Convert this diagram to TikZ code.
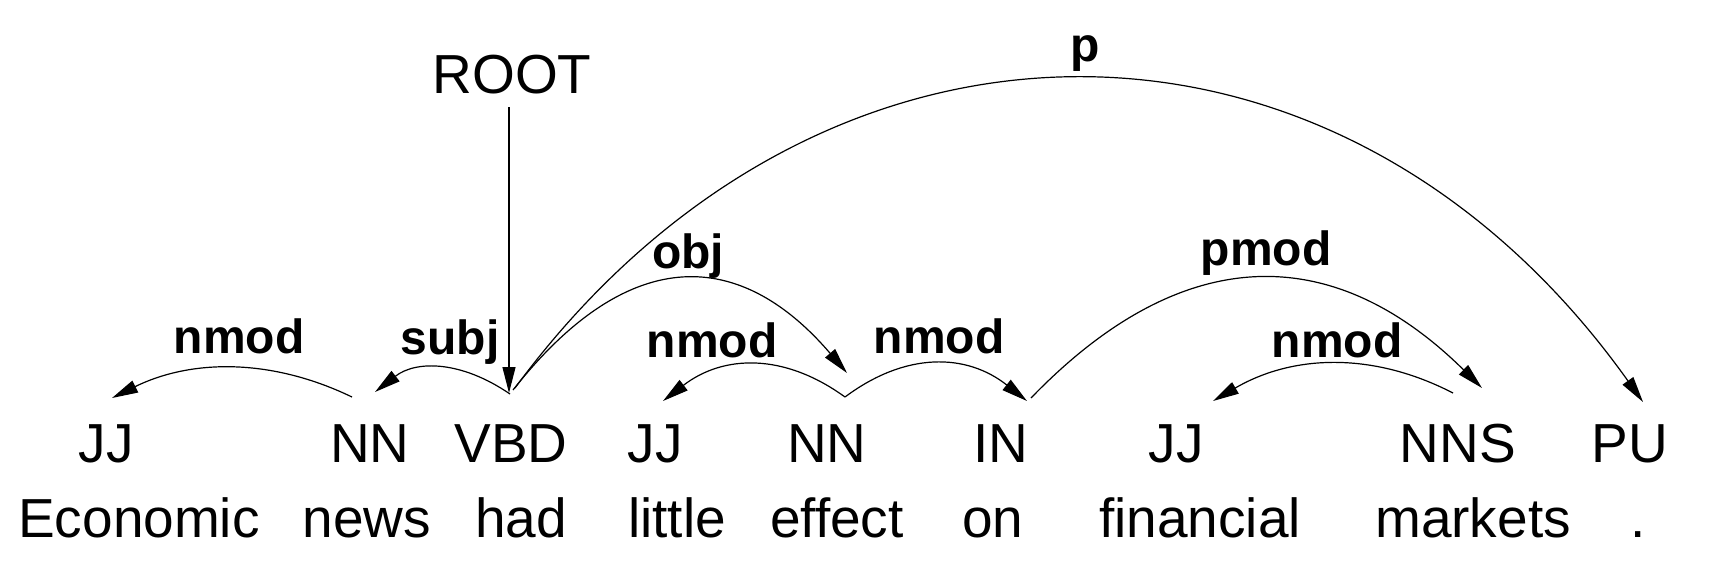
\documentclass[tikz,border=0pt]{standalone}
\usepackage{fontspec}
\setmainfont{Liberation Sans}
\usetikzlibrary{arrows.meta,calc}
\begin{document}
\begin{tikzpicture}[x=0.5pt,y=-0.5pt,
  tag/.style={anchor=base,inner sep=0pt,font=\fontsize{27.5}{30}\selectfont},
  word/.style={anchor=base,inner sep=0pt,font=\fontsize{27.5}{30}\selectfont},
  lab/.style={anchor=base,inner sep=0pt,font=\fontsize{24}{26}\selectfont\bfseries},
  dep/.style={line width=0.6pt,-{Triangle[length=13pt,width=6.5pt]}}]
\useasboundingbox (0,0) rectangle (1710,570);
% POS tags
\node[tag] (t1) at (106,462) {JJ};
\node[tag] (t2) at (370,462) {NN};
\node[tag] (t3) at (511,462) {VBD};
\node[tag] (t4) at (655,462) {JJ};
\node[tag] (t5) at (827,462) {NN};
\node[tag] (t6) at (1001,462) {IN};
\node[tag] (t7) at (1176,462) {JJ};
\node[tag] (t8) at (1458,462) {NNS};
\node[tag] (t9) at (1630,462) {PU};
% words
\node[word] (w1) at (139,537) {Economic};
\node[word] (w2) at (367,537) {news};
\node[word] (w3) at (521,537) {had};
\node[word] (w4) at (677,537) {little};
\node[word] (w5) at (837,537) {effect};
\node[word] (w6) at (993,537) {on};
\node[word] (w7) at (1200,537) {financial};
\node[word] (w8) at (1473,537) {markets};
\node[word] (w9) at (1638,537) {.};
% root
\node[tag] (root) at (512,93) {ROOT};
\coordinate (rootfoot) at (509,107);
% arc end points
\coordinate (a1) at (112,398);   % JJ
\coordinate (a2h) at (375,392);  % NN head of subj
\coordinate (a2t) at (352,397);  % NN tail of nmod
\coordinate (a3) at (509,393);   % VBD
\coordinate (a3s) at (510,394);
\coordinate (a3o) at (513,390);
\coordinate (a3p) at (515,388);
\coordinate (a4) at (663,401);   % JJ little
\coordinate (a5h) at (847,373);  % NN effect head
\coordinate (a5t) at (845,397);  % NN effect tail
\coordinate (a6h) at (1027,401); % IN head
\coordinate (a6t) at (1031,398); % IN tail
\coordinate (a7) at (1213,401);  % JJ financial
\coordinate (a8h) at (1482,388); % NNS head
\coordinate (a8t) at (1453,393); % NNS tail
\coordinate (a9) at (1643,402);  % PU
% quadratic control points
\coordinate (q1) at (232,339);
\coordinate (q2) at (437,344);
\coordinate (q3) at (680,178);
\coordinate (q4) at (754,331);
\coordinate (q5) at (936,329);
\coordinate (q6) at (1256,165);
\coordinate (q7) at (1333,331);
% cubic control points of the long arc
\coordinate (p1) at (820,-26);
\coordinate (p2) at (1338,-26);
% arcs
\draw[dep] (rootfoot) -- (a3);
\draw[dep] (a2t) .. controls ($(a2t)!2/3!(q1)$) and ($(a1)!2/3!(q1)$) .. (a1);
\draw[dep] (a3s) .. controls ($(a3s)!2/3!(q2)$) and ($(a2h)!2/3!(q2)$) .. (a2h);
\draw[dep] (a3o) .. controls ($(a3o)!2/3!(q3)$) and ($(a5h)!2/3!(q3)$) .. (a5h);
\draw[dep] (a5t) .. controls ($(a5t)!2/3!(q4)$) and ($(a4)!2/3!(q4)$) .. (a4);
\draw[dep] (a5t) .. controls ($(a5t)!2/3!(q5)$) and ($(a6h)!2/3!(q5)$) .. (a6h);
\draw[dep] (a6t) .. controls ($(a6t)!2/3!(q6)$) and ($(a8h)!2/3!(q6)$) .. (a8h);
\draw[dep] (a8t) .. controls ($(a8t)!2/3!(q7)$) and ($(a7)!2/3!(q7)$) .. (a7);
\draw[dep] (a3p) .. controls (p1) and (p2) .. (a9);
% labels
\node[lab] (l1) at (239,353) {nmod};
\node[lab] (l2) at (450,354) {subj};
\node[lab] (l3) at (688,268) {obj};
\node[lab] (l4) at (712,357) {nmod};
\node[lab] (l5) at (939,353) {nmod};
\node[lab] (l6) at (1266,265) {pmod};
\node[lab] (l7) at (1337,357) {nmod};
\node[lab] (l8) at (1085,61) {p};
\end{tikzpicture}
\end{document}
